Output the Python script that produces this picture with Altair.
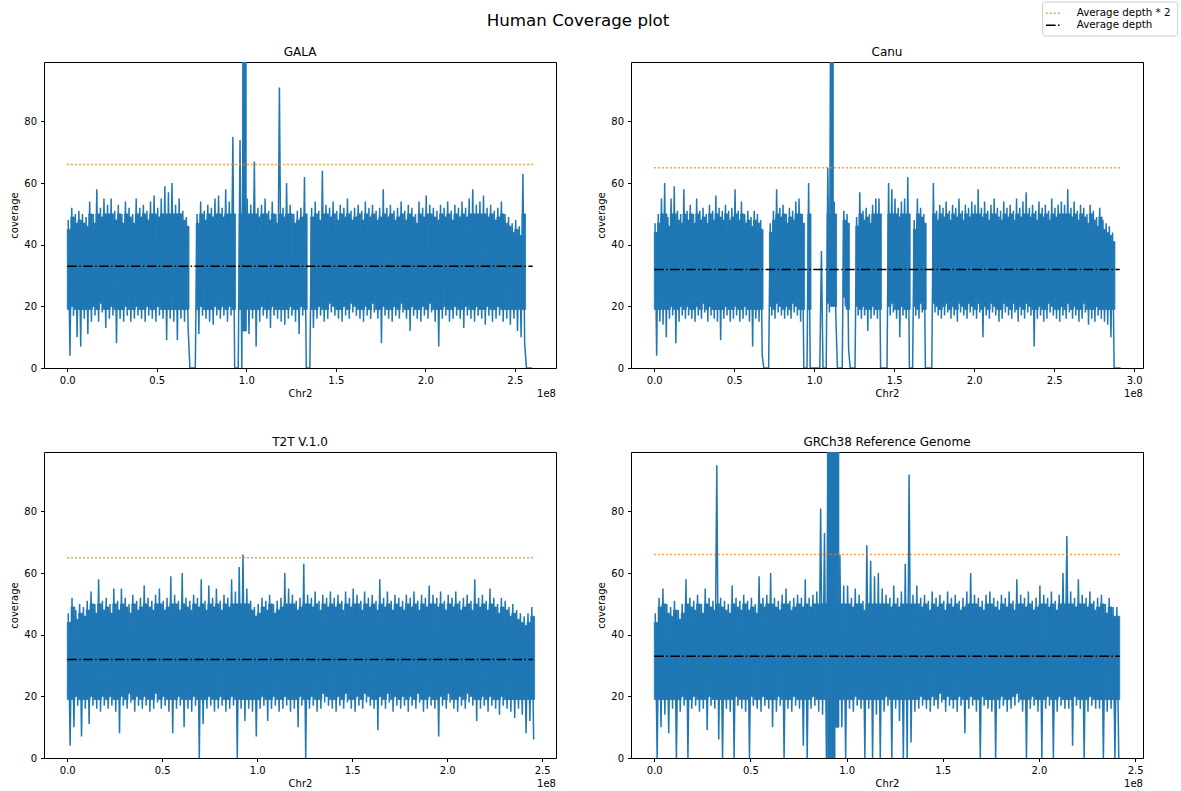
import altair as alt
import pandas as pd

# ---------------------------------------------------------------------------
# Data.
# Each panel: coverage along Chr2 summarised in 2 Mb windows; for every window
# the high reading (peak) and the low reading (dip) of the coverage trace.
# ---------------------------------------------------------------------------
BIN_MB = 2

gala_hi = [48, 52, 50, 51, 50, 49, 54, 50, 58, 52,
           55, 53, 55, 51, 53, 50, 54, 52, 50, 55,
           52, 53, 51, 54, 56, 52, 55, 59, 57, 60,
           53, 55, 51, 49, 0, 0, 50, 54, 51, 53,
           52, 55, 56, 52, 58, 54, 75, 0, 74, 130,
           55, 53, 67, 52, 53, 55, 51, 54, 50, 91,
           52, 60, 53, 50, 51, 52, 62, 0, 52, 54,
           51, 64, 53, 52, 54, 51, 53, 52, 55, 51,
           52, 53, 51, 54, 52, 53, 51, 52, 58, 52,
           53, 51, 52, 54, 51, 53, 52, 50, 54, 52,
           56, 53, 52, 51, 53, 52, 54, 51, 53, 52,
           54, 52, 55, 58, 53, 54, 56, 52, 53, 51,
           52, 54, 50, 49, 47, 48, 46, 63, 0, 0]
gala_lo = [4, 17, 10, 7, 16, 11, 15, 17, 15, 18,
           13, 16, 17, 8, 16, 15, 17, 15, 16, 17,
           16, 15, 17, 16, 15, 17, 16, 9, 16, 15,
           9, 16, 15, 13, 0, 0, 11, 17, 16, 15,
           14, 17, 16, 17, 15, 17, 0, 0, 0, 12,
           11, 16, 7, 15, 17, 16, 13, 17, 16, 15,
           14, 16, 17, 15, 11, 17, 0, 0, 13, 16,
           17, 15, 16, 18, 17, 16, 15, 17, 16, 18,
           17, 16, 15, 17, 16, 18, 16, 8, 17, 16,
           15, 17, 16, 18, 16, 12, 17, 16, 15, 17,
           16, 18, 15, 7, 16, 17, 15, 16, 17, 16,
           13, 17, 16, 15, 17, 16, 14, 17, 15, 16,
           17, 15, 16, 14, 16, 12, 10, 8, 0, 0]

canu_hi = [47, 50, 55, 60, 49, 55, 59, 51, 50, 58,
           51, 53, 50, 55, 51, 52, 50, 53, 51, 56,
           52, 51, 53, 51, 52, 58, 51, 54, 50, 51,
           49, 51, 50, 48, 0, 0, 47, 51, 58, 52,
           53, 50, 52, 51, 54, 55, 50, 0, 60, 0,
           0, 0, 38, 0, 65, 130, 54, 0, 0, 51,
           50, 0, 0, 49, 57, 51, 52, 50, 53, 55,
           55, 0, 0, 60, 58, 55, 52, 54, 55, 62,
           0, 48, 55, 52, 50, 0, 0, 60, 51, 53,
           52, 54, 51, 53, 52, 55, 51, 53, 52, 54,
           53, 58, 52, 54, 51, 53, 55, 52, 51, 54,
           52, 53, 51, 55, 52, 54, 57, 52, 53, 51,
           54, 52, 53, 51, 55, 52, 53, 54, 53, 58,
           52, 54, 51, 53, 52, 50, 53, 51, 49, 52,
           48, 47, 46, 44, 0, 0]
canu_lo = [4, 15, 14, 10, 16, 17, 8, 15, 17, 16,
           17, 16, 15, 17, 16, 18, 15, 17, 16, 15,
           9, 16, 17, 15, 16, 17, 15, 16, 17, 15,
           7, 16, 15, 4, 0, 0, 17, 16, 18, 17,
           16, 17, 16, 18, 17, 15, 0, 0, 0, 0,
           0, 0, 0, 0, 18, 20, 17, 0, 0, 20,
           6, 0, 0, 17, 16, 17, 12, 16, 17, 16,
           0, 0, 0, 17, 18, 16, 10, 17, 16, 0,
           0, 17, 16, 18, 0, 0, 0, 18, 17, 16,
           17, 18, 16, 17, 15, 18, 17, 16, 18, 17,
           16, 18, 10, 17, 16, 18, 17, 15, 16, 18,
           17, 16, 18, 15, 17, 16, 18, 17, 7, 16,
           17, 15, 16, 18, 17, 16, 15, 17, 16, 18,
           16, 17, 15, 16, 18, 14, 16, 15, 17, 16,
           15, 14, 10, 0, 0, 0]

t2t_hi = [47, 52, 48, 50, 49, 51, 54, 50, 58, 51,
          52, 50, 55, 51, 55, 52, 50, 53, 51, 52,
          56, 52, 51, 53, 55, 51, 52, 59, 53, 51,
          60, 52, 51, 53, 52, 58, 51, 56, 52, 55,
          51, 53, 52, 58, 54, 62, 66, 55, 51, 49,
          50, 52, 51, 53, 50, 51, 52, 60, 55, 53,
          51, 52, 63, 53, 52, 54, 51, 53, 52, 54,
          52, 53, 51, 54, 52, 55, 53, 51, 54, 52,
          53, 51, 58, 52, 54, 51, 53, 52, 51, 53,
          52, 54, 51, 53, 52, 56, 53, 52, 54, 51,
          53, 52, 54, 51, 52, 53, 51, 58, 52, 53,
          51, 55, 52, 50, 52, 51, 49, 50, 48, 47,
          46, 47, 49]
t2t_lo = [4, 10, 17, 7, 16, 11, 17, 16, 15, 17,
          16, 17, 15, 8, 17, 16, 18, 15, 17, 16,
          17, 15, 16, 18, 16, 17, 15, 8, 16, 17,
          10, 16, 15, 17, 0, 11, 16, 17, 15, 16,
          17, 15, 16, 17, 0, 16, 12, 16, 15, 7,
          16, 17, 12, 16, 17, 15, 16, 17, 15, 16,
          10, 17, 0, 16, 17, 15, 16, 18, 17, 16,
          15, 17, 16, 18, 16, 15, 17, 16, 18, 17,
          16, 9, 17, 16, 18, 15, 17, 16, 17, 15,
          17, 16, 18, 15, 16, 17, 16, 7, 17, 16,
          18, 16, 15, 17, 16, 18, 17, 12, 16, 17,
          15, 17, 16, 14, 17, 16, 15, 13, 16, 14,
          8, 12, 6]

grch38_hi = [47, 52, 55, 50, 49, 51, 48, 50, 58, 52,
             51, 53, 50, 55, 52, 51, 95, 52, 51, 50,
             56, 52, 51, 53, 51, 52, 50, 59, 52, 53,
             60, 52, 51, 53, 55, 51, 52, 53, 52, 58,
             52, 53, 54, 81, 73, 130, 130, 130, 66, 56,
             56, 52, 55, 53, 51, 69, 64, 59, 60, 55,
             53, 52, 56, 52, 54, 63, 92, 53, 56, 52,
             53, 51, 54, 52, 53, 51, 54, 52, 53, 51,
             52, 54, 60, 53, 52, 51, 53, 54, 52, 51,
             53, 52, 54, 51, 58, 53, 52, 54, 51, 52,
             56, 53, 52, 54, 51, 53, 60, 72, 54, 52,
             58, 53, 52, 54, 51, 52, 53, 50, 52, 49,
             49]
grch38_lo = [0, 10, 14, 8, 16, 0, 15, 17, 0, 16,
             17, 15, 16, 9, 17, 16, 6, 0, 16, 15,
             0, 17, 16, 15, 0, 17, 16, 15, 17, 16,
             10, 15, 17, 0, 16, 15, 17, 16, 4, 0,
             16, 17, 15, 14, 0, 0, 0, 10, 10, 0,
             16, 15, 17, 16, 0, 16, 0, 14, 0, 15,
             17, 0, 16, 12, 0, 0, 5, 15, 16, 17,
             16, 15, 17, 16, 18, 15, 17, 16, 15, 17,
             8, 16, 17, 15, 0, 17, 16, 15, 0, 16,
             17, 15, 16, 17, 18, 15, 0, 16, 17, 15,
             0, 16, 17, 0, 15, 17, 16, 16, 4, 17,
             16, 0, 15, 17, 16, 16, 0, 15, 16, 0,
             0]

panel_titles = ["GALA", "Canu", "T2T V.1.0", "GRCh38 Reference Genome"]
chrom_end = [2.60, 2.91, 2.45, 2.42]          # x 1e8
avg_depth = [33, 32, 32, 33]
avg_depth_x2 = [66, 65, 65, 66]
x_ticks = [[0, 0.5, 1.0, 1.5, 2.0, 2.5],
           [0, 0.5, 1.0, 1.5, 2.0, 2.5, 3.0],
           [0, 0.5, 1.0, 1.5, 2.0, 2.5],
           [0, 0.5, 1.0, 1.5, 2.0, 2.5]]
y_ticks = [0, 20, 40, 60, 80]
legend_labels = ["Average depth * 2", "Average depth"]
main_title = "Human Coverage plot"

# ---------------------------------------------------------------------------
FONT = "DejaVu Sans"
BLUE = "#1f77b4"
ORANGE = "#ff7f0e"
W, H = 512, 306
YMAX = 99.3
DOT = [1.5, 2.5]
DASHDOT = [9.6, 2.4, 1.5, 2.4]


def one_row(**kw):
    return pd.DataFrame({k: [v] for k, v in kw.items()})


def text_layer(txt, x, y, size, align="center"):
    return alt.Chart(one_row(t=txt)).mark_text(
        font=FONT, fontSize=size, align=align, baseline="alphabetic", color="black"
    ).encode(x=alt.value(x), y=alt.value(y), text="t:N")


def panel(k, hi, lo, extra=()):
    end = chrom_end[k]
    xs = alt.Scale(domain=[-0.05 * end, 1.05 * end], nice=False, zero=False)
    ys = alt.Scale(domain=[0, YMAX], nice=False, zero=False)
    xax = alt.Axis(title="Chr2", values=x_ticks[k], format=".1f")
    yax = alt.Axis(title="coverage", values=y_ticks, format="d")

    pts, core = [], []
    for i, (h, l) in enumerate(zip(hi, lo)):
        x0 = i * BIN_MB
        pts.append({"pos": (x0 + 0.5) / 100, "cov": h})
        pts.append({"pos": (x0 + 1.5) / 100, "cov": l})
        # densely filled body of each window (the trace is solid between its
        # extremes except for the thin outermost spikes)
        if h >= YMAX:
            top, bot = YMAX, l
        else:
            top, bot = min(h - 3, 50), max(l + 3, 19)
        if h >= 40 and top > bot:
            core.append({"a": x0 / 100, "b": (x0 + BIN_MB) / 100, "lo": bot, "hi": top})
    pts = pd.DataFrame(pts)
    core = pd.DataFrame(core)

    band = alt.Chart(core).mark_rect(
        color=BLUE, stroke=BLUE, strokeWidth=0.8, clip=True).encode(
        x=alt.X("a:Q", scale=xs, axis=xax), x2="b:Q",
        y=alt.Y("lo:Q", scale=ys, axis=yax), y2="hi:Q")
    line = alt.Chart(pts).mark_line(color=BLUE, strokeWidth=1.5, clip=True).encode(
        x=alt.X("pos:Q", scale=xs, axis=xax),
        y=alt.Y("cov:Q", scale=ys, axis=yax))
    avg2 = alt.Chart(one_row(s=0.0, e=end, v=avg_depth_x2[k])).mark_rule(
        color=ORANGE, strokeWidth=1.5, strokeDash=DOT).encode(
        x=alt.X("s:Q", scale=xs, axis=xax), x2="e:Q",
        y=alt.Y("v:Q", scale=ys, axis=yax))
    avg1 = alt.Chart(one_row(s=0.0, e=end, v=avg_depth[k])).mark_rule(
        color="black", strokeWidth=1.5, strokeDash=DASHDOT).encode(
        x=alt.X("s:Q", scale=xs, axis=xax), x2="e:Q",
        y=alt.Y("v:Q", scale=ys, axis=yax))
    ttl = text_layer(panel_titles[k], W / 2, -6, 12)
    off = text_layer("1e8", W, H + 29.4, 10, align="right")
    return alt.layer(band, line, avg2, avg1, ttl, off, *extra).properties(width=W, height=H)


# decorations placed relative to the panels' plot areas
pin = alt.Chart(one_row(z=0)).mark_rect(fill="white").encode(
    x=alt.value(-43), x2=alt.value(-42), y=alt.value(-61), y2=alt.value(-60))
suptitle = text_layer(main_title, 534, -36.1, 16.7)

legend_box = alt.Chart(one_row(z=0)).mark_rect(
    fill="white", fillOpacity=0.8, stroke="#cccccc", strokeWidth=1, cornerRadius=2).encode(
    x=alt.value(411.7), x2=alt.value(546.7), y=alt.value(-60), y2=alt.value(-26))
leg_dot = alt.Chart(one_row(z=0)).mark_rule(color=ORANGE, strokeWidth=1.5, strokeDash=DOT).encode(
    x=alt.value(415), x2=alt.value(431), y=alt.value(-48.7))
leg_dd = alt.Chart(one_row(z=0)).mark_rule(color="black", strokeWidth=1.5, strokeDash=DASHDOT).encode(
    x=alt.value(415), x2=alt.value(431), y=alt.value(-36.7))
leg_t1 = text_layer(legend_labels[0], 445.7, -46, 10.3, align="left")
leg_t2 = text_layer(legend_labels[1], 445.7, -33.7, 10.3, align="left")

p1 = panel(0, gala_hi, gala_lo, extra=(pin, suptitle))
p2 = panel(1, canu_hi, canu_lo, extra=(legend_box, leg_dot, leg_dd, leg_t1, leg_t2))
p3 = panel(2, t2t_hi, t2t_lo)
p4 = panel(3, grch38_hi, grch38_lo)

chart = alt.concat(
    p1, p2, p3, p4, columns=2, bounds="flush",
    spacing=alt.RowColnumber(row=84, column=75)
).properties(
    padding=0, background="white"
).configure_view(
    stroke="black", strokeWidth=1
).configure_axis(
    grid=False, domain=False, tickColor="black", tickSize=3.5, tickWidth=1,
    labelColor="black", labelFont=FONT, labelFontSize=10, labelPadding=4,
    labelFlush=False, labelOverlap=False,
    titleFont=FONT, titleFontSize=10, titleFontWeight="normal", titleColor="black"
).configure_axisX(titlePadding=3).configure_axisY(titlePadding=4)

chart.save("out.html", embed_options={"renderer": "svg", "actions": False})
